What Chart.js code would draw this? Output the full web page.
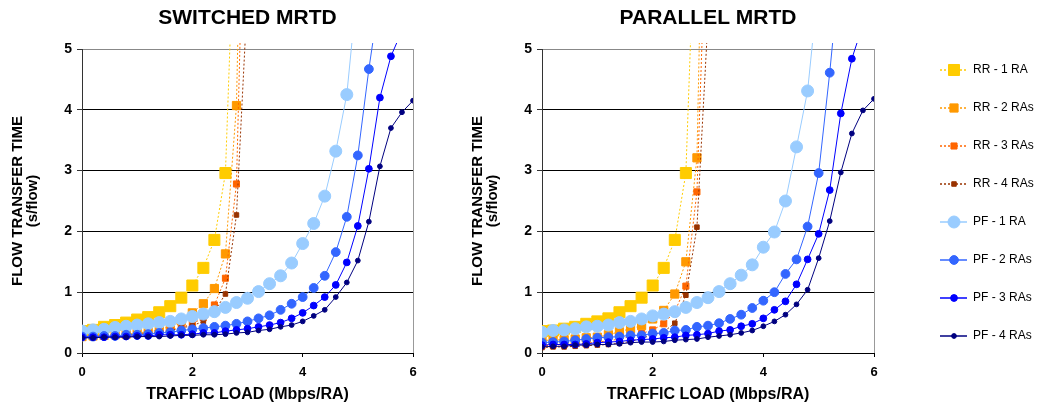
<!DOCTYPE html>
<html>
<head>
<meta charset="utf-8">
<script src="https://cdn.jsdelivr.net/npm/chart.js@4"></script>
<style>
  body { margin: 0; background: #fff; }
  #wrap { position: relative; width: 1039px; height: 408px; }
  #c1 { position: absolute; left: 0; top: 0; }
  #c2 { position: absolute; left: 460px; top: 0; }
</style>
</head>
<body>
<div id="wrap">
  <canvas id="c1" width="460" height="408"></canvas>
  <canvas id="c2" width="579" height="408"></canvas>
</div>
<script>
// traffic load steps (Mbps/RA)
const load = [0,0.2,0.4,0.6,0.8,1.0,1.2,1.4,1.6,1.8,2.0,2.2,2.4,2.6,2.8,3.0,3.2,3.4,3.6,3.8,4.0,4.2,4.4,4.6,4.8,5.0,5.2,5.4,5.6,5.8,6.0];

const seriesNames = ['RR - 1 RA','RR - 2 RAs','RR - 3 RAs','RR - 4 RAs','PF - 1 RA','PF - 2 RAs','PF - 3 RAs','PF - 4 RAs'];
const xTicks = [0,2,4,6];
const yTicks = [0,1,2,3,4,5];

// SWITCHED MRTD
const swRR1 = [0.36,0.38,0.43,0.46,0.50,0.55,0.59,0.67,0.77,0.91,1.11,1.40,1.86,2.96,8.1];
const swRR2 = [0.27,0.28,0.29,0.30,0.31,0.33,0.35,0.38,0.44,0.53,0.66,0.81,1.06,1.63,4.07,13];
const swRR3 = [0.26,0.27,0.28,0.29,0.30,0.31,0.33,0.35,0.38,0.42,0.48,0.58,0.79,1.23,2.78,10];
const swRR4 = [0.25,0.26,0.27,0.28,0.29,0.30,0.31,0.33,0.37,0.41,0.45,0.52,0.68,0.97,2.27,5.9];
const swPF1 = [0.36,0.38,0.39,0.42,0.44,0.46,0.48,0.50,0.52,0.56,0.60,0.64,0.68,0.75,0.83,0.90,1.01,1.14,1.27,1.48,1.80,2.13,2.58,3.32,4.25,6.1];
const swPF2 = [0.27,0.27,0.28,0.28,0.30,0.30,0.31,0.33,0.34,0.37,0.39,0.41,0.43,0.45,0.48,0.52,0.57,0.62,0.71,0.81,0.92,1.07,1.27,1.66,2.24,3.25,4.67,5.9];
const swPF3 = [0.26,0.26,0.26,0.27,0.27,0.28,0.28,0.30,0.30,0.30,0.31,0.33,0.33,0.36,0.38,0.40,0.43,0.46,0.50,0.57,0.66,0.78,0.92,1.12,1.49,2.09,3.03,4.20,4.88,5.3];
const swPF4 = [0.25,0.25,0.26,0.26,0.26,0.27,0.27,0.27,0.28,0.29,0.29,0.30,0.30,0.31,0.33,0.34,0.37,0.39,0.43,0.46,0.52,0.61,0.71,0.92,1.16,1.52,2.16,3.07,3.70,3.96,4.15];

// PARALLEL MRTD
const paRR1 = [0.36,0.37,0.40,0.43,0.48,0.52,0.57,0.67,0.77,0.91,1.11,1.40,1.86,2.96,8.1];
const paRR2 = [0.21,0.21,0.22,0.23,0.25,0.26,0.30,0.35,0.40,0.45,0.56,0.70,0.97,1.50,3.21,12];
const paRR3 = [0.12,0.13,0.14,0.15,0.16,0.18,0.20,0.23,0.27,0.32,0.38,0.48,0.68,1.10,2.65,8];
const paRR4 = [0.09,0.10,0.10,0.11,0.12,0.13,0.14,0.16,0.19,0.24,0.30,0.35,0.49,0.95,2.07,5.5];
const paPF1 = [0.34,0.37,0.38,0.40,0.43,0.44,0.46,0.50,0.52,0.56,0.61,0.64,0.68,0.75,0.83,0.91,1.01,1.14,1.28,1.45,1.74,1.99,2.50,3.39,4.31,6.1];
const paPF2 = [0.17,0.18,0.19,0.21,0.23,0.25,0.26,0.27,0.29,0.29,0.32,0.33,0.37,0.38,0.43,0.45,0.49,0.56,0.63,0.74,0.86,1.00,1.30,1.54,2.08,2.96,4.61,6.5];
const paPF3 = [0.13,0.14,0.14,0.14,0.15,0.17,0.18,0.19,0.21,0.22,0.23,0.25,0.26,0.29,0.30,0.32,0.36,0.38,0.44,0.48,0.57,0.71,0.85,1.13,1.54,1.96,2.68,3.94,4.84,5.4];
const paPF4 = [0.10,0.11,0.11,0.13,0.13,0.14,0.14,0.15,0.17,0.18,0.18,0.19,0.21,0.22,0.23,0.26,0.28,0.30,0.33,0.37,0.44,0.52,0.63,0.80,1.04,1.56,2.17,2.97,3.61,3.99,4.18];

const FONT = "'Liberation Sans', Arial, sans-serif";

// look of each series (RR dotted squares, PF solid circles)
const looks = [
  {color:'#FFCC00', style:'rect',   r:7.8, dash:[2,2]},
  {color:'#FF9900', style:'rect',   r:5.8, dash:[2,2]},
  {color:'#FF6600', style:'rect',   r:4.3, dash:[2,2]},
  {color:'#993300', style:'rect',   r:3.2, dash:[2,2]},
  {color:'#99CCFF', style:'circle', r:6,   dash:[]},
  {color:'#3366FF', style:'circle', r:4.4, dash:[]},
  {color:'#0000FF', style:'circle', r:3.4, dash:[]},
  {color:'#000080', style:'circle', r:2.4, dash:[]}
];

function toPoints(vals){
  return vals.map((v,i) => ({x: load[i], y: v}));
}

function makeDatasets(list){
  return list.map((vals,i) => ({
    label: seriesNames[i],
    data: toPoints(vals),
    borderColor: looks[i].color,
    backgroundColor: looks[i].color,
    pointBackgroundColor: looks[i].color,
    pointBorderColor: looks[i].color,
    pointBorderWidth: 1,
    borderWidth: 1,
    borderDash: looks[i].dash,
    pointStyle: looks[i].style,
    pointRadius: looks[i].r,
    tension: 0,
    order: 7 - i,
    clip: {left: 0, top: 6, right: 0, bottom: 2}
  }));
}

// gray frame on the right side of the plot
const frame = {
  id: 'frame',
  beforeDatasetsDraw(chart){
    const a = chart.chartArea, c = chart.ctx;
    c.save();
    c.strokeStyle = '#999';
    c.lineWidth = 1;
    c.beginPath();
    c.moveTo(Math.round(a.right) + 0.5, a.top);
    c.lineTo(Math.round(a.right) + 0.5, a.bottom);
    c.stroke();
    c.restore();
  }
};

// legend with line + marker, drawn on the right canvas
const sideLegend = {
  id: 'sideLegend',
  afterDraw(chart){
    if (!chart.options.plugins.sideLegend.show) return;
    const c = chart.ctx;
    chart.data.datasets.forEach((ds,i) => {
      const y = 70 + i*38;
      c.save();
      c.strokeStyle = ds.borderColor;
      c.lineWidth = 1.5;
      c.setLineDash(ds.borderDash);
      c.beginPath();
      c.moveTo(480, y);
      c.lineTo(507, y);
      c.stroke();
      c.setLineDash([]);
      c.fillStyle = ds.pointBackgroundColor;
      c.strokeStyle = ds.pointBorderColor;
      c.lineWidth = 1;
      Chart.helpers.drawPoint(c, {pointStyle: ds.pointStyle, radius: ds.pointRadius, rotation: 0, borderWidth: 1}, 494, y);
      c.fillStyle = '#000';
      c.font = '12px ' + FONT;
      c.textBaseline = 'middle';
      c.textAlign = 'left';
      c.fillText(ds.label, 513, y);
      c.restore();
    });
  }
};

function makeChart(id, titleText, list, padRight, legendOn){
  const ctx = document.getElementById(id).getContext('2d');
  return new Chart(ctx, {
    type: 'line',
    data: { datasets: makeDatasets(list) },
    options: {
      responsive: false,
      animation: false,
      devicePixelRatio: 1,
      layout: { padding: {left: 0, right: padRight, top: 0, bottom: 0} },
      plugins: {
        legend: { display: false },
        tooltip: { enabled: false },
        sideLegend: { show: legendOn },
        title: {
          display: true,
          text: titleText,
          fullSize: false,
          color: '#000',
          font: { family: FONT, size: 21, weight: 'bold', lineHeight: 1.2 },
          padding: { top: 6, bottom: 17.8 }
        }
      },
      scales: {
        x: {
          type: 'linear',
          min: 0, max: 6,
          afterBuildTicks(s){ s.ticks = xTicks.map(v => ({value: v})); },
          afterFit(s){ s.height = 55; },
          ticks: { color: '#000', padding: 8, font: { family: FONT, size: 13, weight: 'bold' } },
          grid: { drawOnChartArea: false, drawTicks: true, tickLength: 4, tickColor: '#000' },
          border: { display: true, color: '#000', width: 1 },
          title: {
            display: true,
            text: 'TRAFFIC LOAD (Mbps/RA)',
            color: '#000',
            font: { family: FONT, size: 16, weight: 'bold', lineHeight: 1 },
            padding: { top: 0, bottom: 5 }
          }
        },
        y: {
          min: 0, max: 5,
          afterBuildTicks(s){ s.ticks = yTicks.map(v => ({value: v})); },
          afterFit(s){ s.width = 82; },
          ticks: { color: '#000', padding: 5, font: { family: FONT, size: 14, weight: 'bold' } },
          grid: {
            color: c => (c.tick && c.tick.value === 5) ? '#888' : '#000',
            tickLength: 5,
            tickColor: '#333'
          },
          border: { display: true, color: '#333', width: 1 },
          title: {
            display: true,
            text: ['FLOW TRANSFER TIME', '(s/flow)'],
            color: '#000',
            font: { family: FONT, size: 15, weight: 'bold', lineHeight: 0.95 },
            padding: { top: 11, bottom: 0 }
          }
        }
      }
    },
    plugins: [frame, sideLegend]
  });
}

makeChart('c1', 'SWITCHED MRTD', [swRR1,swRR2,swRR3,swRR4,swPF1,swPF2,swPF3,swPF4], 47, false);
makeChart('c2', 'PARALLEL MRTD', [paRR1,paRR2,paRR3,paRR4,paPF1,paPF2,paPF3,paPF4], 165, true);
</script>
</body>
</html>
